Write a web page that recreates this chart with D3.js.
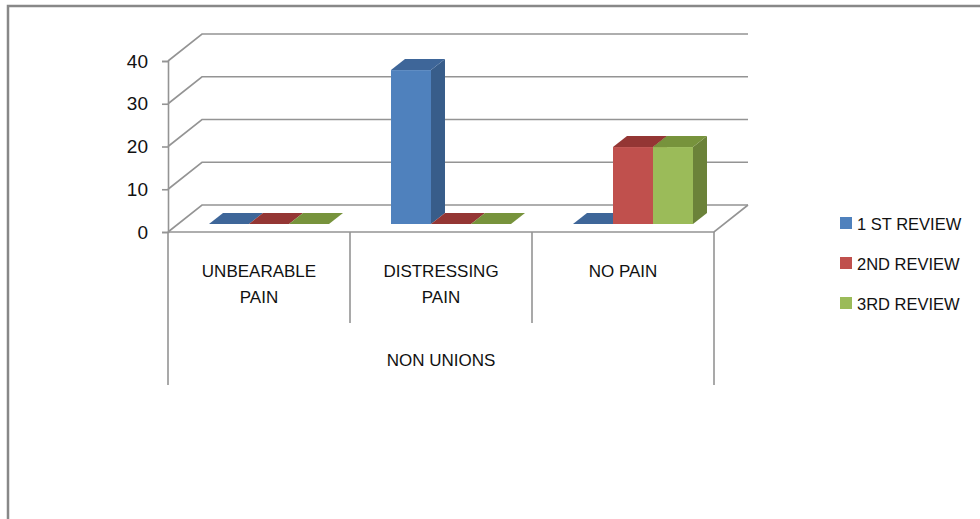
<!DOCTYPE html>
<html>
<head>
<meta charset="utf-8">
<script src="https://cdn.jsdelivr.net/npm/d3@7"></script>
<style>
  body { margin: 0; background: white; }
  svg { display: block; font-family: "Liberation Sans", Arial, sans-serif; }
</style>
</head>
<body>
<div id="viz"></div>
<script>
const categories = ["UNBEARABLE PAIN", "DISTRESSING PAIN", "NO PAIN"];
const categoryLines = [["UNBEARABLE", "PAIN"], ["DISTRESSING", "PAIN"], ["NO PAIN"]];
const groupLabel = "NON UNIONS";
const seriesNames = ["1 ST REVIEW", "2ND REVIEW", "3RD REVIEW"];
const firstReview = [0, 36, 0];
const secondReview = [0, 0, 18];
const thirdReview = [0, 0, 18];
const yTicks = [0, 10, 20, 30, 40];

const seriesValues = [firstReview, secondReview, thirdReview];
const colors = [
    { front: "#4F81BD", side: "#385D8A", top: "#3E6699" },
    { front: "#C0504D", side: "#8C3836", top: "#943634" },
    { front: "#9BBB59", side: "#6B8239", top: "#77933C" }
];

const width = 980, height = 519;
const depth = { dx: 34, dy: -27 };       // floor depth
const barNear = { dx: 10, dy: -8 };      // front face of bars
const barFar = { dx: 24, dy: -19 };      // back face of bars
const barWidth = 40;

const svg = d3.select("#viz").append("svg")
    .attr("width", width)
    .attr("height", height);

// outer frame
svg.append("rect")
    .attr("x", 8).attr("y", 6)
    .attr("width", 1000).attr("height", 600)
    .attr("fill", "none")
    .attr("stroke", "#888")
    .attr("stroke-width", 2.5);

const x = d3.scaleBand()
    .domain(categories)
    .range([168, 714])
    .padding(0);

const xs = d3.scaleBand()
    .domain(seriesNames)
    .range([(x.bandwidth() - barWidth * 3) / 2, (x.bandwidth() + barWidth * 3) / 2])
    .padding(0);

const y = d3.scaleLinear()
    .domain([0, 40])
    .range([232, 61]);

const grid = svg.append("g").attr("stroke", "#949494").attr("stroke-width", 1.6).attr("fill", "none");

// gridlines on side and back walls
yTicks.forEach(t => {
    const p = d3.path();
    p.moveTo(x.range()[0], y(t));
    p.lineTo(x.range()[0] + depth.dx, y(t) + depth.dy);
    p.lineTo(x.range()[1] + depth.dx, y(t) + depth.dy);
    grid.append("path").attr("d", p.toString());
});

// floor front and right edge
const floor = d3.path();
floor.moveTo(x.range()[0], y(0));
floor.lineTo(x.range()[1], y(0));
floor.lineTo(x.range()[1] + depth.dx, y(0) + depth.dy);
grid.append("path").attr("d", floor.toString());

// y axis
const yAxis = svg.append("g")
    .attr("transform", `translate(${x.range()[0]},0)`)
    .call(d3.axisLeft(y).tickValues(yTicks).tickSize(6).tickPadding(14));
yAxis.select(".domain").attr("stroke", "#949494").attr("stroke-width", 1.6);
yAxis.selectAll(".tick line").attr("stroke", "#949494").attr("stroke-width", 1.6);
yAxis.selectAll(".tick text")
    .attr("font-family", "Liberation Sans, Arial, sans-serif")
    .attr("font-size", 19)
    .attr("fill", "#111");

// category separators below the floor
const sepGroup = svg.append("g").attr("stroke", "#949494").attr("stroke-width", 1.6);
sepGroup.append("line")
    .attr("x1", x.range()[0]).attr("x2", x.range()[0])
    .attr("y1", y(0)).attr("y2", 385);
sepGroup.append("line")
    .attr("x1", x.range()[1]).attr("x2", x.range()[1])
    .attr("y1", y(0)).attr("y2", 385);
categories.slice(1).forEach(c => {
    sepGroup.append("line")
        .attr("x1", x(c)).attr("x2", x(c))
        .attr("y1", y(0)).attr("y2", 323);
});

// category labels
const catText = svg.append("g")
    .attr("font-size", 17)
    .attr("fill", "#111")
    .attr("text-anchor", "middle");
categories.forEach((c, i) => {
    categoryLines[i].forEach((line, j) => {
        catText.append("text")
            .attr("x", x(c) + x.bandwidth() / 2)
            .attr("y", 277 + j * 26)
            .text(line);
    });
});
catText.append("text")
    .attr("x", (x.range()[0] + x.range()[1]) / 2)
    .attr("y", 366)
    .text(groupLabel);

// bars
const bars = svg.append("g");
categories.forEach((c, ci) => {
    seriesNames.forEach((s, si) => {
        const v = seriesValues[si][ci];
        const x0 = x(c) + xs(s) + barNear.dx;
        const x1 = x0 + xs.bandwidth();
        const yb = y(0) + barNear.dy;
        const yt = y(v) + barNear.dy;
        const ddx = barFar.dx - barNear.dx, ddy = barFar.dy - barNear.dy;
        const col = colors[si];
        if (v > 0) {
            bars.append("rect")
                .attr("x", x0).attr("y", yt)
                .attr("width", x1 - x0).attr("height", yb - yt)
                .attr("fill", col.front);
            bars.append("path")
                .attr("d", `M${x1},${yt}L${x1 + ddx},${yt + ddy}L${x1 + ddx},${yb + ddy}L${x1},${yb}Z`)
                .attr("fill", col.side);
        }
        bars.append("path")
            .attr("d", `M${x0},${yt}L${x0 + ddx},${yt + ddy}L${x1 + ddx},${yt + ddy}L${x1},${yt}Z`)
            .attr("fill", col.top);
    });
});

// legend
const legend = svg.append("g")
    .attr("font-size", 16.5)
    .attr("fill", "#111");
seriesNames.forEach((s, i) => {
    const row = legend.append("g").attr("transform", `translate(840,${217 + i * 40})`);
    row.append("rect")
        .attr("width", 12).attr("height", 12)
        .attr("fill", colors[i].front);
    row.append("text")
        .attr("x", 17).attr("y", 13)
        .text(s);
});
</script>
</body>
</html>
